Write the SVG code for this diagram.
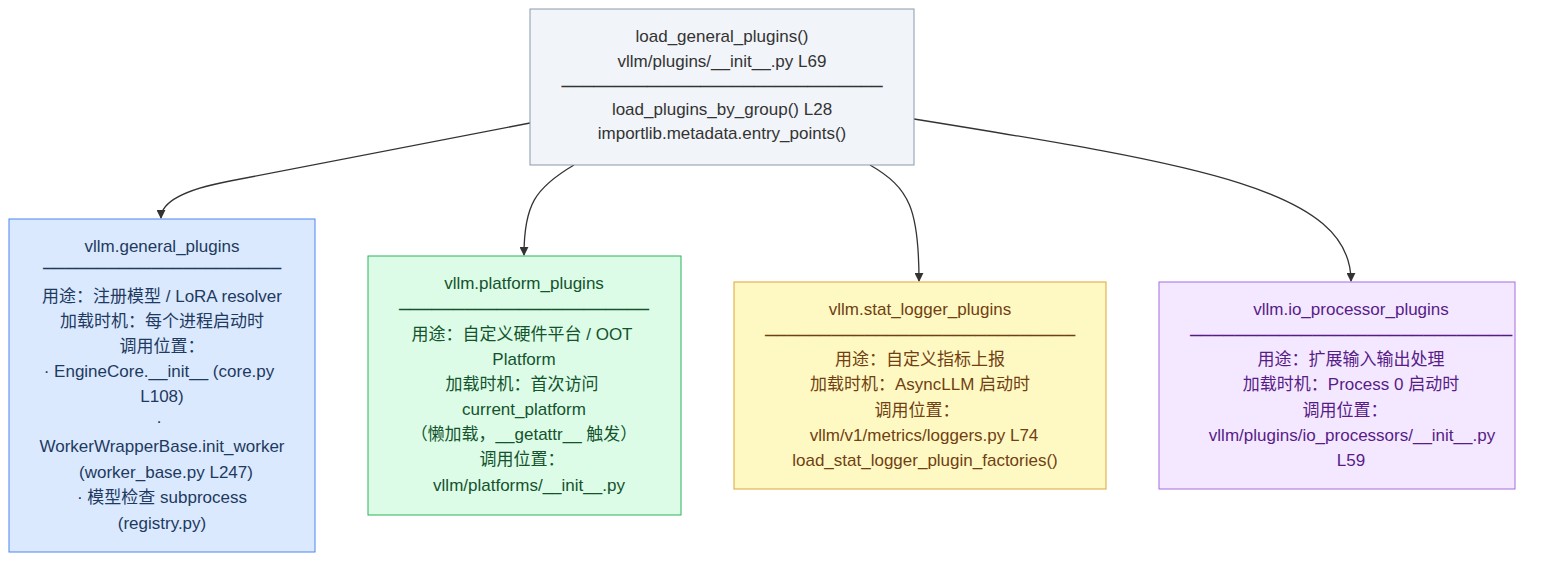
<svg xmlns="http://www.w3.org/2000/svg" width="1568" height="568" viewBox="0 0 1568 568">
<defs>
<marker id="arr" viewBox="0 0 10 10" refX="9" refY="5" markerWidth="9" markerHeight="9" markerUnits="userSpaceOnUse" orient="auto">
<path d="M0,0 L10,5 L0,10 z" fill="#333"/>
</marker>
<style>
text{font-family:"Liberation Sans","Noto Sans CJK SC",sans-serif;font-size:17px;text-anchor:middle}
.sep{font-family:"DejaVu Sans",sans-serif;font-size:16px}
.edge{fill:none;stroke:#333;stroke-width:1.3;marker-end:url(#arr)}
.n0 rect{fill:#f1f4f9;stroke:#8a99ad;stroke-width:1}
.n0 text{fill:#333}
.n1 rect{fill:#dbe9fe;stroke:#4a86f0;stroke-width:1}
.n1 text{fill:#1e3a5f}
.n2 rect{fill:#dcfce7;stroke:#2fb15a;stroke-width:1}
.n2 text{fill:#14532d}
.n3 rect{fill:#fef9c3;stroke:#e0a437;stroke-width:1}
.n3 text{fill:#713f12}
.n4 rect{fill:#f3e8ff;stroke:#a66de0;stroke-width:1}
.n4 text{fill:#581c87}
</style>
</defs>
<rect width="1568" height="568" fill="#ffffff"/>
<g id="edges">
<path class="edge" d="M530,123 L230,181 Q161,194 161,218"/>
<path class="edge" d="M574,165 C535,188 524,205 524,255"/>
<path class="edge" d="M870,165 C910,188 919,210 919,281"/>
<path class="edge" d="M914,119 C1200,165 1351,190 1351,281"/>
</g>
<g id="load_general_plugins" class="n0">
<rect x="530" y="9" width="384" height="156"/>
<text x="722" y="42">load_general_plugins()</text>
<text x="722" y="67">vllm/plugins/__init__.py L69</text>
<text class="sep" x="722" y="91.5" textLength="321" lengthAdjust="spacingAndGlyphs">──────────────────────────────</text>
<text x="722" y="115">load_plugins_by_group() L28</text>
<text x="722" y="139">importlib.metadata.entry_points()</text>
</g>
<g id="general_plugins" class="n1">
<rect x="9" y="219" width="306" height="333"/>
<text x="162" y="252">vllm.general_plugins</text>
<text class="sep" x="162" y="273.5" textLength="238" lengthAdjust="spacingAndGlyphs">──────────────────────</text>
<text x="162" y="302">用途：注册模型 / LoRA resolver</text>
<text x="162" y="327">加载时机：每个进程启动时</text>
<text x="162" y="352">调用位置：</text>
<text x="159" y="377">· EngineCore.__init__ (core.py</text>
<text x="162" y="402">L108)</text>
<text x="159" y="427">·</text>
<text x="162" y="452">WorkerWrapperBase.init_worker</text>
<text x="166" y="478">(worker_base.py L247)</text>
<text x="162" y="503">· 模型检查 subprocess</text>
<text x="162" y="529">(registry.py)</text>
</g>
<g id="platform_plugins" class="n2">
<rect x="368" y="256" width="313" height="259"/>
<text x="524" y="289">vllm.platform_plugins</text>
<text class="sep" x="524" y="314.5" textLength="250" lengthAdjust="spacingAndGlyphs">───────────────────────</text>
<text x="522" y="340">用途：自定义硬件平台 / OOT</text>
<text x="524" y="365">Platform</text>
<text x="522" y="390">加载时机：首次访问</text>
<text x="524" y="415">current_platform</text>
<text x="524" y="440">（懒加载，__getattr__ 触发）</text>
<text x="522" y="465">调用位置：</text>
<text x="529" y="491">vllm/platforms/__init__.py</text>
</g>
<g id="stat_logger_plugins" class="n3">
<rect x="734" y="282" width="372" height="207"/>
<text x="920" y="315">vllm.stat_logger_plugins</text>
<text class="sep" x="920" y="340.5" textLength="310" lengthAdjust="spacingAndGlyphs">────────────────────────────</text>
<text x="920" y="365">用途：自定义指标上报</text>
<text x="920" y="390">加载时机：AsyncLLM 启动时</text>
<text x="917" y="416">调用位置：</text>
<text x="924" y="441">vllm/v1/metrics/loggers.py L74</text>
<text x="925" y="466">load_stat_logger_plugin_factories()</text>
</g>
<g id="io_processor_plugins" class="n4">
<rect x="1159" y="282" width="356" height="207"/>
<text x="1351" y="315">vllm.io_processor_plugins</text>
<text class="sep" x="1351" y="340.5" textLength="322" lengthAdjust="spacingAndGlyphs">─────────────────────────────</text>
<text x="1351" y="365">用途：扩展输入输出处理</text>
<text x="1351" y="390">加载时机：Process 0 启动时</text>
<text x="1345" y="416">调用位置：</text>
<text x="1352" y="441">vllm/plugins/io_processors/__init__.py</text>
<text x="1351" y="466">L59</text>
</g>
</svg>
